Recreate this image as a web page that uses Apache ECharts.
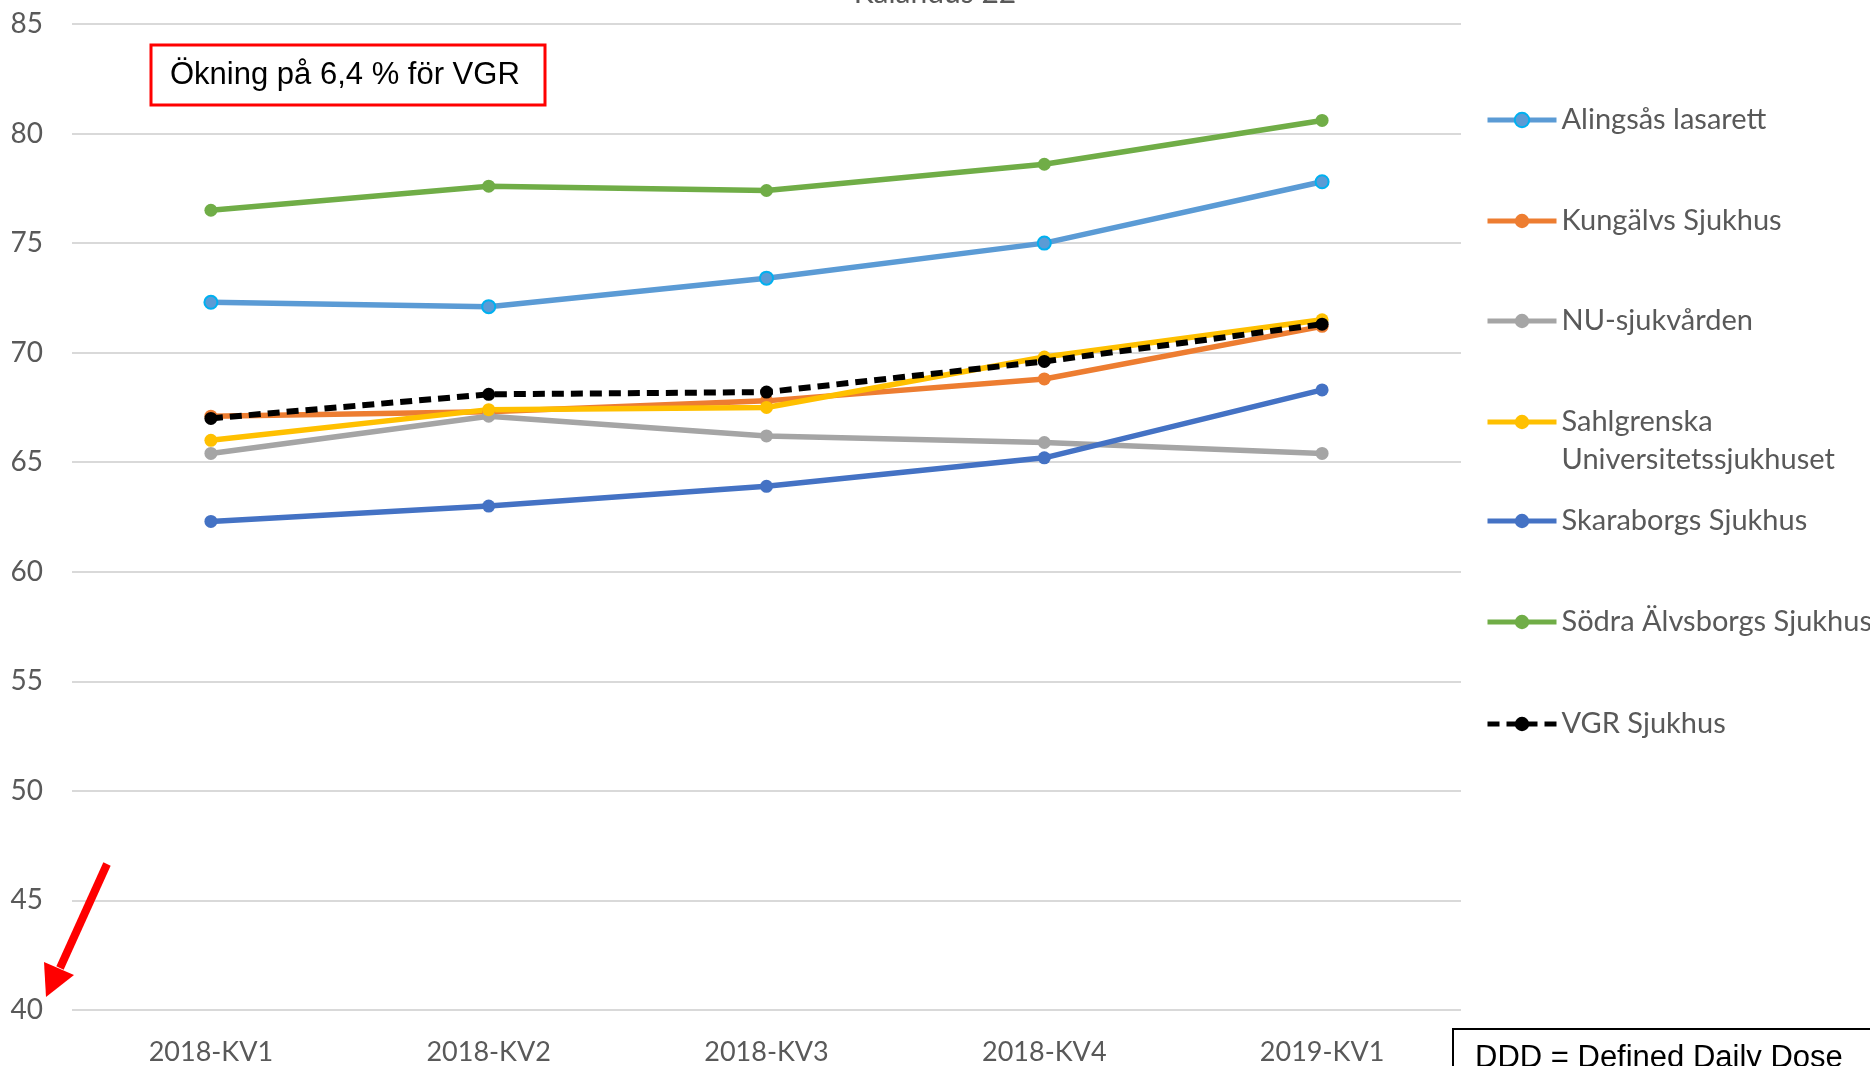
<!DOCTYPE html>
<html>
<head>
<meta charset="utf-8">
<title>Kvartal</title>
<script src="https://cdn.jsdelivr.net/npm/echarts@6/dist/echarts.min.js"></script>
<style>
  html, body { margin: 0; padding: 0; background: #fff; }
  #chart { width: 1870px; height: 1066px; }
</style>
</head>
<body>
<div id="chart"></div>
<script>
// kvartal på x-axeln
var quarters = ["2018-KV1", "2018-KV2", "2018-KV3", "2018-KV4", "2019-KV1"];

// värden per sjukhus
var alingsas = [72.3, 72.1, 73.4, 75.0, 77.8];
var kungalv = [67.1, 67.3, 67.8, 68.8, 71.2];
var nu = [65.4, 67.1, 66.2, 65.9, 65.4];
var sahlgrenska = [66.0, 67.4, 67.5, 69.8, 71.5];
var skaraborg = [62.3, 63.0, 63.9, 65.2, 68.3];
var sodraAlvsborg = [76.5, 77.6, 77.4, 78.6, 80.6];
var vgr = [67.0, 68.1, 68.2, 69.6, 71.3];

var yTicks = { min: 40, max: 85, interval: 5 };

var chartDom = document.getElementById("chart");
var myChart = echarts.init(chartDom);

var labelFont = '"Liberation Sans Narrow", "Lato", sans-serif';
var legendFont = '"Lato", "Open Sans", sans-serif';
var grey = "#595959";

function lineSeries(name, data, color, extra) {
  var s = {
    name: name,
    type: "line",
    data: data,
    symbol: "circle",
    symbolSize: 13,
    showSymbol: true,
    lineStyle: { color: color, width: 5.5 },
    itemStyle: { color: color },
    emphasis: { disabled: true },
    animation: false,
  };
  return Object.assign(s, extra || {});
}

var series = [
  lineSeries("Alingsås lasarett", alingsas, "#5B9BD5", {
    itemStyle: { color: "#5B9BD5", borderColor: "#00B0F0", borderWidth: 2 },
  }),
  lineSeries("Kungälvs Sjukhus", kungalv, "#ED7D31"),
  lineSeries("NU-sjukvården", nu, "#A5A5A5"),
  lineSeries("Sahlgrenska Universitetssjukhuset", sahlgrenska, "#FFC000"),
  lineSeries("Skaraborgs Sjukhus", skaraborg, "#4472C4"),
  lineSeries("Södra Älvsborgs Sjukhus", sodraAlvsborg, "#70AD47"),
  lineSeries("VGR Sjukhus", vgr, "#000000", {
    lineStyle: { color: "#000000", width: 6, type: [12, 7] },
    z: 5,
  }),
];

// en legend per post så att avståndet blir jämnt som i Excel
var legendCenters = [120, 221, 321, 422, 521, 622, 724];
var lh = 38;
var legends = series.map(function (s, i) {
  var multi = s.name === "Sahlgrenska Universitetssjukhuset";
  return {
    show: true,
    data: [s.name],
    orient: "vertical",
    left: 1485,
    top: multi ? legendCenters[i] - 1.5 * lh : legendCenters[i] - lh / 2,
    padding: 0,
    itemWidth: 69,
    itemHeight: 18,
    itemGap: 0,
    selectedMode: false,
    lineStyle: { width: 5 },
    formatter: multi
      ? function () { return "\nSahlgrenska\nUniversitetssjukhuset"; }
      : "{name}",
    textStyle: {
      fontFamily: legendFont,
      fontSize: 29,
      color: grey,
      lineHeight: lh,
    },
  };
});

var option = {
  backgroundColor: "#ffffff",
  animation: false,
  legend: legends,
  grid: { left: 72, right: 409, top: 24, bottom: 56, containLabel: false },
  xAxis: {
    type: "category",
    data: quarters,
    boundaryGap: true,
    axisLine: { show: false },
    axisTick: { show: false },
    axisLabel: {
      margin: 29,
      fontFamily: labelFont,
      fontSize: 27,
      color: grey,
    },
  },
  yAxis: {
    type: "value",
    min: yTicks.min,
    max: yTicks.max,
    interval: yTicks.interval,
    axisLine: { show: false },
    axisTick: { show: false },
    axisLabel: {
      margin: 29,
      fontFamily: labelFont,
      fontSize: 28,
      color: grey,
    },
    splitLine: { lineStyle: { color: "#D9D9D9", width: 2 } },
  },
  series: series,
  graphic: [
    // avskuren rubrik överst
    {
      type: "text",
      left: "center",
      top: -22,
      style: {
        text: "Kalandus 22",
        font: "30px " + legendFont,
        fill: grey,
      },
    },
    // ruta med kommentar
    {
      type: "rect",
      shape: { x: 151, y: 45, width: 394, height: 60 },
      style: { fill: "#ffffff", stroke: "#FF0000", lineWidth: 3 },
      z: 10,
    },
    {
      type: "text",
      x: 170,
      y: 75,
      style: {
        text: "Ökning på 6,4 % för VGR",
        font: '31px "Liberation Sans", Arial, sans-serif',
        fill: "#000000",
        verticalAlign: "middle",
      },
      z: 11,
    },
    // röd pil mot y-axelns nollpunkt
    {
      type: "line",
      shape: { x1: 107, y1: 864, x2: 60, y2: 968 },
      style: { stroke: "#FF0000", lineWidth: 8 },
      z: 10,
    },
    {
      type: "polygon",
      shape: { points: [[44, 962], [74, 975], [46, 997]] },
      style: { fill: "#FF0000" },
      z: 10,
    },
    // förklaringsruta nere till höger
    {
      type: "rect",
      shape: { x: 1453, y: 1029, width: 440, height: 60 },
      style: { fill: "#ffffff", stroke: "#000000", lineWidth: 2 },
      z: 10,
    },
    {
      type: "text",
      x: 1475,
      y: 1043,
      style: {
        text: "DDD = Defined Daily Dose",
        font: '31px "Liberation Sans", Arial, sans-serif',
        fill: "#000000",
        verticalAlign: "top",
      },
      z: 11,
    },
  ],
};

myChart.setOption(option);
</script>
</body>
</html>
